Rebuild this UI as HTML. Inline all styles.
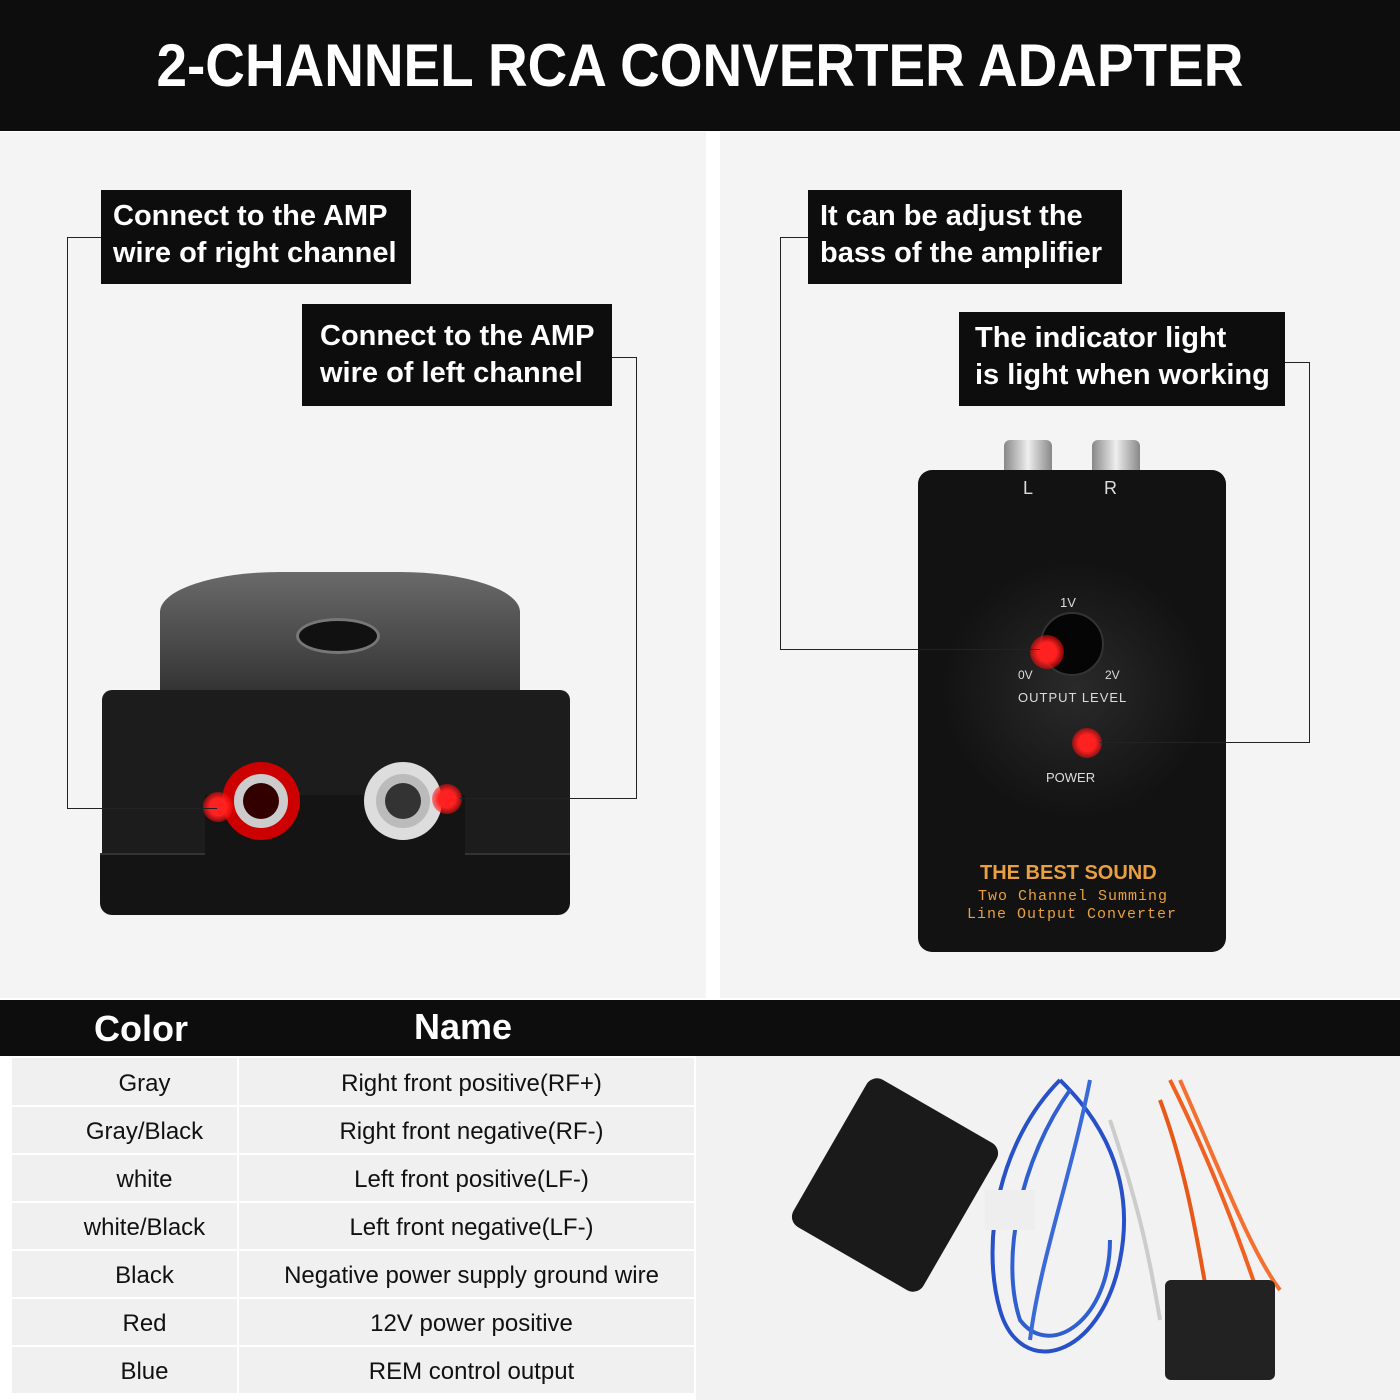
<!DOCTYPE html>
<html><head><meta charset="utf-8"><style>
*{margin:0;padding:0;box-sizing:border-box}
body{width:1400px;height:1400px;position:relative;background:#fff;font-family:"Liberation Sans",sans-serif;overflow:hidden}
.abs{position:absolute}
.hdr{left:0;top:0;width:1400px;height:131px;background:#0d0d0d;color:#fff;font-weight:bold;font-size:60px;text-align:center;line-height:131px}
.hdr span{display:inline-block;transform:scaleX(0.915)}
.cb{position:absolute;background:#0d0d0d;color:#fff;font-weight:bold;font-size:29px;line-height:37px;padding:8px 12px}
.ln{position:absolute;border:1.5px solid #222}
.dot{position:absolute;width:30px;height:30px;border-radius:50%;background:radial-gradient(circle,#ff2020 40%,rgba(255,0,0,0.4) 75%,rgba(255,0,0,0) 100%)}
table{border-collapse:collapse}
td{height:48px;font-size:24px;color:#111;text-align:center;border-bottom:2px solid #fff;background:#f0f0f0;padding-top:4px}
td.c{width:226px;border-right:2px solid #fff;padding-left:40px}
td.n{padding-left:10px}
</style></head><body>
<div class="abs hdr"><span>2-CHANNEL RCA CONVERTER ADAPTER</span></div>
<div class="abs" style="left:0;top:132px;width:706px;height:866px;background:#f4f4f4"></div>
<div class="abs" style="left:720px;top:132px;width:680px;height:866px;background:#f4f4f4"></div>

<!-- left device -->
<div class="abs" style="left:160px;top:572px;width:360px;height:140px;background:linear-gradient(#6a6a6a,#2a2a2a);border-radius:120px 120px 0 0/40px 40px 0 0"></div>
<div class="abs" style="left:296px;top:618px;width:84px;height:36px;border-radius:50%;background:#111;border:3px solid #777"></div>
<div class="abs" style="left:102px;top:690px;width:468px;height:165px;background:#1c1c1c;border-radius:10px 10px 0 0"></div>
<div class="abs" style="left:100px;top:853px;width:470px;height:62px;background:#141414;border-radius:0 0 12px 12px;border-top:2px solid #333"></div>
<div class="abs" style="left:205px;top:795px;width:260px;height:62px;background:#141414"></div>
<div class="abs" style="left:222px;top:762px;width:78px;height:78px;border-radius:50%;background:#ccc;border:12px solid #c00"></div>
<div class="abs" style="left:243px;top:783px;width:36px;height:36px;border-radius:50%;background:#300"></div>
<div class="abs" style="left:364px;top:762px;width:78px;height:78px;border-radius:50%;background:#bbb;border:12px solid #ddd"></div>
<div class="abs" style="left:385px;top:783px;width:36px;height:36px;border-radius:50%;background:#333"></div>
<div class="dot" style="left:203px;top:792px"></div>
<div class="dot" style="left:432px;top:784px"></div>

<div class="ln" style="left:67px;top:237px;width:35px;height:572px;border-right:none"></div>
<div class="ln" style="left:67px;top:808px;width:150px;height:0;border-width:1.5px 0 0 0"></div>
<div class="ln" style="left:612px;top:357px;width:25px;height:442px;border-left:none"></div>
<div class="ln" style="left:460px;top:798px;width:177px;height:0;border-width:1.5px 0 0 0"></div>
<div class="cb" style="left:101px;top:190px;width:310px;height:94px">Connect to the AMP<br>wire of right channel</div>
<div class="cb" style="left:302px;top:304px;width:310px;height:102px;padding-top:14px;padding-left:18px">Connect to the AMP<br>wire of left channel</div>

<!-- right device -->
<div class="abs" style="left:1004px;top:440px;width:48px;height:32px;background:linear-gradient(90deg,#888,#eee,#888);border-radius:6px 6px 0 0"></div>
<div class="abs" style="left:1092px;top:440px;width:48px;height:32px;background:linear-gradient(90deg,#888,#eee,#888);border-radius:6px 6px 0 0"></div>
<div class="abs" style="left:918px;top:470px;width:308px;height:482px;background:#121212;border-radius:14px"></div>
<div class="abs" style="left:940px;top:560px;width:270px;height:260px;border-radius:50%;background:radial-gradient(#2a2a2a,#121212 70%)"></div>
<div class="abs" style="left:1023px;top:478px;color:#ddd;font-size:18px">L</div>
<div class="abs" style="left:1104px;top:478px;color:#ddd;font-size:18px">R</div>
<div class="abs" style="left:1060px;top:595px;color:#ddd;font-size:13px">1V</div>
<div class="abs" style="left:1040px;top:612px;width:64px;height:64px;border-radius:50%;background:#050505;border:2px solid #333"></div>
<div class="abs" style="left:1018px;top:668px;color:#ddd;font-size:12px">0V</div>
<div class="abs" style="left:1105px;top:668px;color:#ddd;font-size:12px">2V</div>
<div class="abs" style="left:1018px;top:690px;color:#ddd;font-size:13px;letter-spacing:1px">OUTPUT LEVEL</div>
<div class="abs" style="left:1046px;top:770px;color:#ddd;font-size:13px">POWER</div>
<div class="abs" style="left:980px;top:862px;color:#e8a040;font-size:20px;font-weight:bold">THE BEST SOUND</div>
<div class="abs" style="left:978px;top:888px;color:#e8a040;font-size:15px;font-family:'Liberation Mono',monospace;letter-spacing:1px">Two Channel Summing</div>
<div class="abs" style="left:967px;top:906px;color:#e8a040;font-size:15px;font-family:'Liberation Mono',monospace;letter-spacing:1px">Line Output Converter</div>
<div class="dot" style="left:1030px;top:635px;width:34px;height:34px"></div>
<div class="dot" style="left:1072px;top:728px"></div>

<div class="ln" style="left:780px;top:237px;width:30px;height:413px;border-right:none"></div>
<div class="ln" style="left:780px;top:649px;width:260px;height:0;border-width:1.5px 0 0 0"></div>
<div class="ln" style="left:1284px;top:362px;width:26px;height:381px;border-left:none"></div>
<div class="ln" style="left:1100px;top:742px;width:210px;height:0;border-width:1.5px 0 0 0"></div>
<div class="cb" style="left:808px;top:190px;width:314px;height:94px">It can be adjust the<br>bass of the amplifier</div>
<div class="cb" style="left:959px;top:312px;width:326px;height:94px;padding-left:16px">The indicator light<br>is light when working</div>

<!-- table -->
<div class="abs" style="left:0;top:1000px;width:1400px;height:56px;background:#0d0d0d"></div>
<div class="abs" style="left:94px;top:1008px;color:#fff;font-weight:bold;font-size:36px">Color</div>
<div class="abs" style="left:414px;top:1006px;color:#fff;font-weight:bold;font-size:36px">Name</div>
<div class="abs" style="left:696px;top:1056px;width:704px;height:344px;background:#f2f2f2"></div>
<table class="abs" style="left:12px;top:1058px;width:682px">
<tr><td class="c">Gray</td><td class="n">Right front positive(RF+)</td></tr>
<tr><td class="c">Gray/Black</td><td class="n">Right front negative(RF-)</td></tr>
<tr><td class="c">white</td><td class="n">Left front positive(LF-)</td></tr>
<tr><td class="c">white/Black</td><td class="n">Left front negative(LF-)</td></tr>
<tr><td class="c">Black</td><td class="n">Negative power supply ground wire</td></tr>
<tr><td class="c">Red</td><td class="n">12V power positive</td></tr>
<tr><td class="c">Blue</td><td class="n">REM control output</td></tr>
</table>

<!-- bottom product -->
<div class="abs" style="left:820px;top:1100px;width:150px;height:170px;background:#1a1a1a;border-radius:12px;transform:rotate(30deg)"></div>
<svg class="abs" style="left:960px;top:1060px" width="360" height="340">
<g fill="none" stroke-width="4">
<path d="M100 20 C40 80 20 180 40 250 C60 320 140 300 160 200 C180 100 120 40 100 20" stroke="#2850c8"/>
<path d="M110 30 C60 100 40 200 60 260 C90 300 150 260 150 180" stroke="#3060d0"/>
<path d="M130 20 C110 120 80 200 70 280" stroke="#3a6ad8"/>
<path d="M150 60 C180 150 190 200 200 260" stroke="#ccc"/>
<path d="M210 20 C250 100 280 180 300 240" stroke="#f06020"/>
<path d="M220 20 C260 110 290 190 320 230" stroke="#f47030"/>
<path d="M200 40 C230 120 240 200 250 250" stroke="#e85818"/>
</g>
<rect x="205" y="220" width="110" height="100" fill="#222" rx="6"/>
<rect x="25" y="130" width="50" height="40" fill="#eee"/>
</svg>
</body></html>
